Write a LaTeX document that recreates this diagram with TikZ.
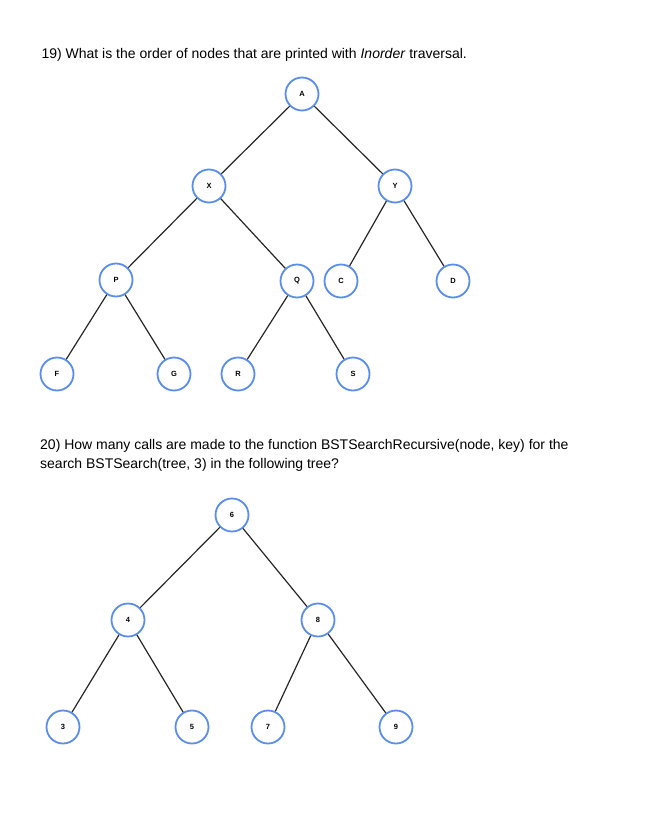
\documentclass[tikz,border=0pt]{standalone}
\usepackage{fontspec}
\setmainfont{Liberation Sans}
\definecolor{nodeblue}{HTML}{5B8DEF}
\begin{document}
\begin{tikzpicture}[x=1pt,y=-1pt,
  tn/.style={circle,draw=nodeblue,line width=1.8pt,fill=white,minimum size=33pt,inner sep=0pt,font=\fontsize{7.5}{8}\selectfont\bfseries},
  ed/.style={line width=1.2pt,black!85}]
\useasboundingbox (0,0) rectangle (656,819);
\node[anchor=base west,font=\fontsize{14}{17}\selectfont] (t1) at (38,58) {19) What is the order of nodes that are printed with \textit{Inorder} traversal.};
\node[anchor=north west,align=left,font=\fontsize{14}{19.5}\selectfont,inner sep=0pt] (t2) at (40,439) {20) How many calls are made to the function BSTSearchRecursive(node, key) for the\\search BSTSearch(tree, 3) in the following tree?};
\node[tn] (A) at (302,94) {A};
\node[tn] (X) at (209,186) {X};
\node[tn] (Y) at (395,186) {Y};
\node[tn] (P) at (116,280) {P};
\node[tn] (Q) at (297,281) {Q};
\node[tn] (C) at (341,281) {C};
\node[tn] (D) at (453,281) {D};
\node[tn] (F) at (57,374) {F};
\node[tn] (G) at (174,374) {G};
\node[tn] (R) at (238,374) {R};
\node[tn] (S) at (353,374) {S};
\draw[ed] (A)--(X) (A)--(Y) (X)--(P) (X)--(Q) (Y)--(C) (Y)--(D) (P)--(F) (P)--(G) (Q)--(R) (Q)--(S);
\node[tn] (n6) at (232,515) {6};
\node[tn] (n4) at (128,620) {4};
\node[tn] (n8) at (318,620) {8};
\node[tn] (n3) at (63,727) {3};
\node[tn] (n5) at (192,727) {5};
\node[tn] (n7) at (268,727) {7};
\node[tn] (n9) at (396,727) {9};
\draw[ed] (n6)--(n4) (n6)--(n8) (n4)--(n3) (n4)--(n5) (n8)--(n7) (n8)--(n9);
\end{tikzpicture}
\end{document}
